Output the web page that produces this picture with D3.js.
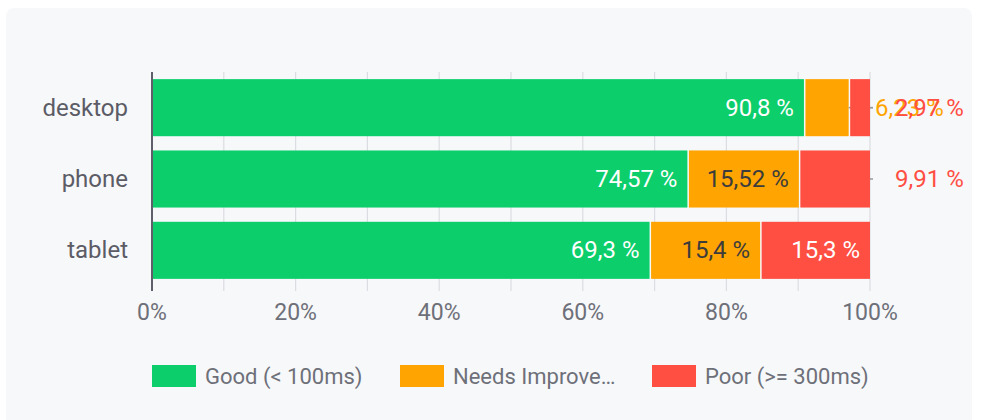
<!DOCTYPE html>
<html>
<head>
<meta charset="utf-8">
<script src="https://cdn.jsdelivr.net/npm/d3@7"></script>
<style>
  body { margin: 0; background: #fff; font-family: Roboto, sans-serif; }
</style>
</head>
<body>
<svg id="chart"></svg>
<script>
var categories = ['desktop', 'phone', 'tablet'];
var seriesKeys = ['good', 'needs', 'poor'];
var legendLabels = ['Good (< 100ms)', 'Needs Improve\u2026', 'Poor (>= 300ms)'];
var goodValues = [90.8, 74.57, 69.3];
var needsValues = [6.23, 15.52, 15.4];
var poorValues = [2.97, 9.91, 15.3];
var tickValues = [0, 20, 40, 60, 80, 100];

var colors = { good: '#0cce6b', needs: '#ffa400', poor: '#ff4e42' };
var insideText = { good: '#fff', needs: '#3c3c3c', poor: '#fff' };

var W = 986, H = 420;
var svg = d3.select('#chart').attr('width', W).attr('height', H);

// panel background
svg.append('rect')
  .attr('x', 6).attr('y', 8)
  .attr('width', 966).attr('height', 430)
  .attr('rx', 8)
  .attr('fill', '#f7f8fa');

var rows = categories.map(function (c, i) {
  return { cat: c, good: goodValues[i], needs: needsValues[i], poor: poorValues[i] };
});

var x = d3.scaleLinear().domain([0, 100]).range([152, 870]);
var y = d3.scaleBand().domain(categories).range([72, 286])
  .paddingInner(0.2).paddingOuter(0.1);

// grid lines every 10%
svg.append('g').selectAll('line')
  .data(d3.range(10, 101, 10))
  .join('line')
  .attr('x1', function (d) { return x(d); })
  .attr('x2', function (d) { return x(d); })
  .attr('y1', 72).attr('y2', 291)
  .attr('stroke', '#dcdde2')
  .attr('stroke-width', 1.2);

// x axis labels
svg.append('g').selectAll('text')
  .data(tickValues)
  .join('text')
  .attr('x', function (d) { return x(d); })
  .attr('y', 312)
  .attr('text-anchor', 'middle')
  .attr('dominant-baseline', 'central')
  .attr('font-size', 23)
  .attr('fill', '#6e7079')
  .text(function (d) { return d + '%'; });

// category labels
svg.append('g').selectAll('text')
  .data(categories)
  .join('text')
  .attr('x', 128)
  .attr('y', function (d) { return y(d) + y.bandwidth() / 2; })
  .attr('text-anchor', 'end')
  .attr('dominant-baseline', 'central')
  .attr('font-size', 24)
  .attr('fill', '#5c5c66')
  .text(function (d) { return d; });

var stacked = d3.stack().keys(seriesKeys)(rows);

function fmt(v) { return String(v).replace('.', ',') + ' %'; }

stacked.forEach(function (layer, j) {
  var key = layer.key;
  var g = svg.append('g');
  g.selectAll('rect')
    .data(layer)
    .join('rect')
    .attr('x', function (d) { return x(d[0]) + (j > 0 ? 1.5 : 0); })
    .attr('y', function (d) { return y(d.data.cat); })
    .attr('width', function (d) { return x(d[1]) - x(d[0]) - (j > 0 ? 1.5 : 0); })
    .attr('height', y.bandwidth())
    .attr('fill', colors[key]);

  layer.forEach(function (d) {
    var v = d.data[key];
    var cy = y(d.data.cat) + y.bandwidth() / 2;
    if (v >= 12) {
      g.append('text')
        .attr('x', x(d[1]) - 10)
        .attr('y', cy)
        .attr('text-anchor', 'end')
        .attr('dominant-baseline', 'central')
        .attr('font-size', 24)
        .attr('fill', insideText[key])
        .text(fmt(v));
    } else {
      // small segment: leader line and label outside the bar
      g.append('line')
        .attr('x1', x(d[1])).attr('x2', x(100) + 3)
        .attr('y1', cy).attr('y2', cy)
        .attr('stroke', '#9a9a9a')
        .attr('stroke-width', 1.5);
      g.append('text')
        .attr('x', x(100) + 5 + (j - 1) * 20)
        .attr('y', cy)
        .attr('dominant-baseline', 'central')
        .attr('font-size', 24)
        .attr('fill', colors[key])
        .text(fmt(v));
    }
  });
});

// y axis line
svg.append('line')
  .attr('x1', x(0)).attr('x2', x(0))
  .attr('y1', 72).attr('y2', 291)
  .attr('stroke', '#5f5f6b')
  .attr('stroke-width', 2);

// legend
var legendX = [152, 400, 652];
var legend = svg.append('g').selectAll('g')
  .data(seriesKeys)
  .join('g')
  .attr('transform', function (d, i) { return 'translate(' + legendX[i] + ',365)'; });
legend.append('rect')
  .attr('width', 44).attr('height', 22)
  .attr('fill', function (d) { return colors[d]; });
legend.append('text')
  .attr('x', 53).attr('y', 11)
  .attr('dominant-baseline', 'central')
  .attr('font-size', 22)
  .attr('fill', '#6e7079')
  .text(function (d, i) { return legendLabels[i]; });
</script>
</body>
</html>
